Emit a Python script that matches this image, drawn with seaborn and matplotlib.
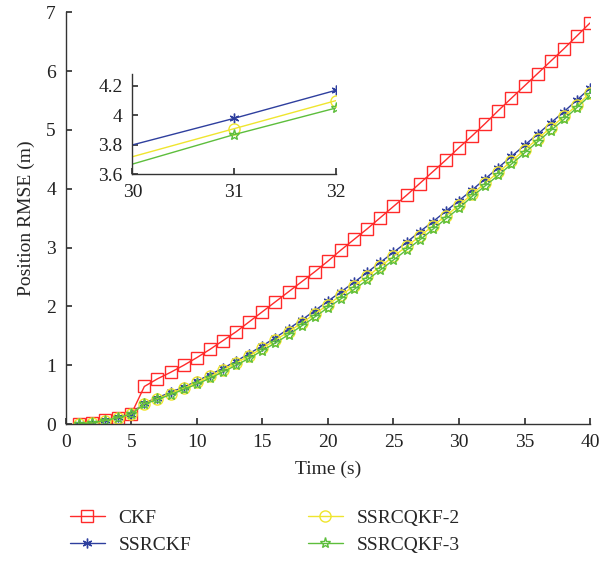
import numpy as np
import pandas as pd
import matplotlib
matplotlib.use("Agg")
import matplotlib.pyplot as plt
import seaborn as sns

time_s = list(range(1, 41))
ckf = [0.01, 0.02, 0.07, 0.11, 0.17, 0.64, 0.77, 0.88, 1.00, 1.13,
       1.27, 1.42, 1.57, 1.74, 1.91, 2.08, 2.25, 2.42, 2.59, 2.77,
       2.96, 3.14, 3.32, 3.51, 3.70, 3.89, 4.09, 4.29, 4.49, 4.70,
       4.90, 5.11, 5.33, 5.54, 5.75, 5.96, 6.17, 6.38, 6.60, 6.82]
ssrckf = [0.01, 0.02, 0.07, 0.12, 0.18, 0.36, 0.45, 0.54, 0.63, 0.73,
          0.84, 0.95, 1.07, 1.20, 1.33, 1.47, 1.62, 1.77, 1.93, 2.09,
          2.25, 2.41, 2.58, 2.75, 2.92, 3.09, 3.27, 3.44, 3.62, 3.80,
          3.98, 4.17, 4.36, 4.55, 4.74, 4.93, 5.12, 5.31, 5.51, 5.71]
ssrcqkf2 = [0.01, 0.02, 0.06, 0.11, 0.17, 0.35, 0.43, 0.52, 0.61, 0.71,
            0.81, 0.92, 1.04, 1.16, 1.29, 1.43, 1.57, 1.72, 1.87, 2.03,
            2.19, 2.35, 2.51, 2.68, 2.85, 3.02, 3.19, 3.37, 3.54, 3.72,
            3.91, 4.10, 4.28, 4.47, 4.66, 4.85, 5.04, 5.23, 5.42, 5.63]
ssrcqkf3 = [0.01, 0.02, 0.06, 0.11, 0.17, 0.34, 0.42, 0.50, 0.59, 0.68,
            0.78, 0.89, 1.00, 1.12, 1.25, 1.38, 1.52, 1.67, 1.82, 1.98,
            2.13, 2.29, 2.45, 2.62, 2.79, 2.96, 3.13, 3.31, 3.49, 3.67,
            3.87, 4.05, 4.23, 4.42, 4.61, 4.80, 4.99, 5.18, 5.38, 5.59]

labels = ["CKF", "SSRCKF", "SSRCQKF-2", "SSRCQKF-3"]
series = [ckf, ssrckf, ssrcqkf2, ssrcqkf3]
colors = ["#FF2A2A", "#2E3F9E", "#EFE52E", "#5DBE3C"]
markers = ["s", (6, 2, 0), "o", "*"]
msizes = [8, 7, 8, 8]

df = pd.DataFrame({"Time": time_s * 4,
                   "RMSE": sum(series, []),
                   "Filter": [l for l in labels for _ in time_s]})

sns.set_theme(style="ticks")
plt.rcParams["font.family"] = ["Liberation Serif", "DejaVu Serif"]
plt.rcParams.update({"xtick.direction": "in", "ytick.direction": "in",
                     "axes.edgecolor": "#333333", "axes.linewidth": 1.0})

fig = plt.figure(figsize=(6.14, 5.61), dpi=100)
ax = fig.add_axes([0.107, 0.244, 0.854, 0.734])
for lab, c, m, ms in zip(labels, colors, markers, msizes):
    sns.lineplot(data=df[df["Filter"] == lab], x="Time", y="RMSE", ax=ax,
                 color=c, marker=m, markersize=ms, mfc="none", mec=c,
                 mew=1.0, lw=1.0, label=lab, legend=False)
ax.set_xlim(0, 40)
ax.set_ylim(0, 7)
ax.set_xticks(range(0, 41, 5))
ax.set_yticks(range(0, 8))
ax.set_xlabel("Time (s)", fontsize=14, labelpad=7)
ax.set_ylabel("Position RMSE (m)", fontsize=14, labelpad=8)
ax.tick_params(labelsize=14, length=4, pad=7, colors="#333333", labelcolor="#222222")
sns.despine(ax=ax)

# inset zoom on t = 30..32 (markers only on 31 and 32, as in the source)
ins = fig.add_axes([0.2155, 0.689, 0.3315, 0.179])
sub = df[(df["Time"] >= 30) & (df["Time"] <= 32) & (df["Filter"] != "CKF")]
for lab, c, m, ms in zip(labels[1:], colors[1:], markers[1:], msizes[1:]):
    sns.lineplot(data=sub[sub["Filter"] == lab], x="Time", y="RMSE", ax=ins,
                 color=c, marker=m, markersize=ms, mfc="none", mec=c,
                 mew=1.0, lw=1.0, markevery=[1, 2], legend=False)
ins.set_xlim(30, 32)
ins.set_ylim(3.6, 4.28)
ins.set_xticks([30, 31, 32])
ins.set_yticks([3.6, 3.8, 4.0, 4.2])
ins.set_yticklabels(["3.6", "3.8", "4", "4.2"])
ins.set_xlabel("")
ins.set_ylabel("")
ins.tick_params(labelsize=14, length=4, pad=7, colors="#333333", labelcolor="#222222")
sns.despine(ax=ins)

handles, hl = ax.get_legend_handles_labels()
fig.legend(handles, hl, ncol=2, loc="lower left", bbox_to_anchor=(0.085, -0.018),
           frameon=False, fontsize=14, handlelength=1.8, handletextpad=0.7,
           columnspacing=6.0, labelspacing=0.45)

fig.savefig("out.png", dpi=100)
